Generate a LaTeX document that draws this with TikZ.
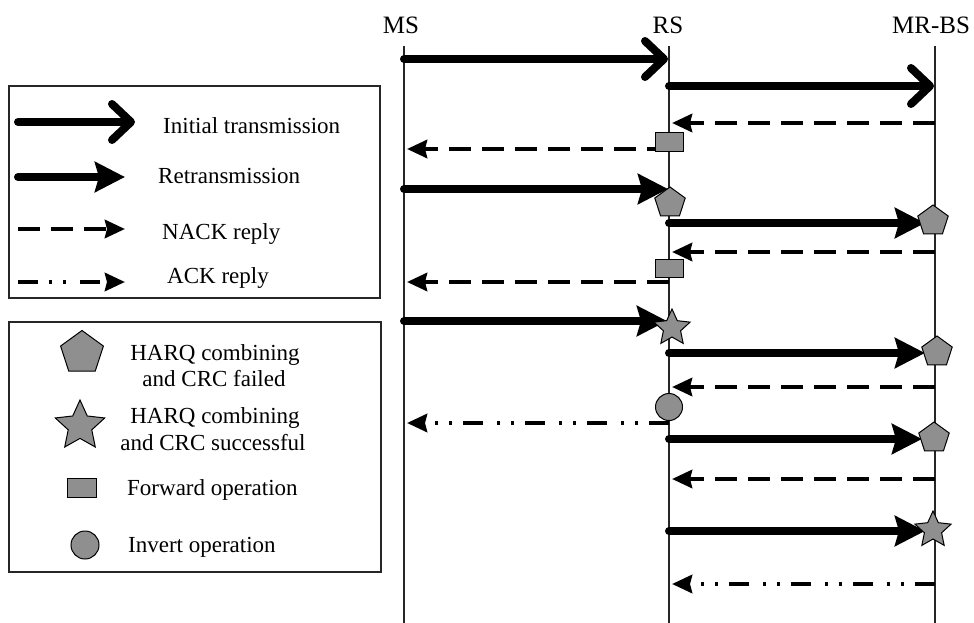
\documentclass[tikz,border=0pt]{standalone}
\usepackage{fontspec}
\setmainfont{Liberation Serif}
\usetikzlibrary{arrows.meta,shapes.geometric}
\definecolor{symfill}{RGB}{143,143,143}
\tikzset{
 life/.style={line width=1.5pt, black!85},
 initarrow/.style={line width=8pt, line cap=round, -{Straight Barb[length=19pt,width=36pt,line width=8pt,round]}},
 retxarrow/.style={line width=8pt, line cap=round, -{Stealth[length=30pt,width=30pt,inset=4pt]}},
 nackarrow/.style={line width=4.5pt, dash pattern=on 22pt off 11pt, -{Stealth[length=20pt,width=18pt,inset=2pt]}},
 ackarrow/.style={line width=4.5pt, dash pattern=on 20pt off 11pt on 3pt off 11pt on 3pt off 14pt, -{Stealth[length=20pt,width=18pt,inset=2pt]}},
 pent/.style={regular polygon, regular polygon sides=5, draw=black, line width=1pt, fill=symfill, minimum size=32pt, inner sep=0pt},
 starsym/.style={star, star points=5, star point ratio=2.1, draw=black, line width=1pt, fill=symfill, minimum size=38pt, inner sep=0pt},
 rectsym/.style={rectangle, draw=black, line width=1pt, fill=symfill, minimum width=28pt, minimum height=18pt, inner sep=0pt},
 circsym/.style={circle, draw=black, line width=1pt, fill=symfill, minimum size=27pt, inner sep=0pt},
 lbl/.style={font=\fontsize{23}{25}\selectfont, inner sep=0pt},
 headlbl/.style={font=\fontsize{25}{27}\selectfont, inner sep=0pt},
 legbox/.style={draw=black!85, line width=2pt, inner sep=0pt},
}
\begin{document}
\begin{tikzpicture}[x=1pt,y=-1pt]
\fill[white] (0,0) rectangle (974,623);
\useasboundingbox (0,0) rectangle (974,623);

% headers
\node[headlbl] (ms) at (401,25) {MS};
\node[headlbl] (rs) at (668,25) {RS};
\node[headlbl] (bs) at (931,25) {MR-BS};

% lifelines
\coordinate (mstop) at (404,46);
\coordinate (msbot) at (404,623);
\coordinate (rstop) at (669,46);
\coordinate (rsbot) at (669,623);
\coordinate (bstop) at (935,46);
\coordinate (bsbot) at (935,623);
\draw[life] (mstop) -- (msbot);
\draw[life] (rstop) -- (rsbot);
\draw[life] (bstop) -- (bsbot);

% legend boxes
\node[legbox, minimum width=371pt, minimum height=212pt, anchor=north west] (leg1) at (8,85) {};
\node[legbox, minimum width=372pt, minimum height=250pt, anchor=north west] (leg2) at (8,321) {};

% legend 1
\coordinate (l1a) at (18,122); \coordinate (l1b) at (135,122);
\draw[initarrow] (l1a) -- (l1b);
\node[lbl, anchor=base west] (t1) at (163,133) {Initial transmission};
\coordinate (l2a) at (18,177); \coordinate (l2b) at (125,177);
\draw[retxarrow] (l2a) -- (l2b);
\node[lbl, anchor=base west] (t2) at (158,183) {Retransmission};
\coordinate (l3a) at (18,229); \coordinate (l3b) at (125,229);
\draw[nackarrow] (l3a) -- (l3b);
\node[lbl, anchor=base west] (t3) at (162,239) {NACK reply};
\coordinate (l4a) at (18,282); \coordinate (l4b) at (125,282);
\draw[ackarrow] (l4a) -- (l4b);
\node[lbl, anchor=base west] (t4) at (167,283) {ACK reply};

% legend 2
\node[pent, minimum size=45pt] (lp) at (82,353) {};
\node[lbl, anchor=base] (t5a) at (215,360) {HARQ combining};
\node[lbl, anchor=base] (t5b) at (214,386) {and CRC failed};
\node[starsym, minimum size=52pt] (ls) at (80,426) {};
\node[lbl, anchor=base] (t6a) at (215,423) {HARQ combining};
\node[lbl, anchor=base] (t6b) at (213,450) {and CRC successful};
\node[rectsym, minimum width=29pt, minimum height=19pt] (lr) at (82,488) {};
\node[lbl, anchor=base west] (t7) at (127,495) {Forward operation};
\node[circsym, minimum size=28pt] (lc) at (85,545) {};
\node[lbl, anchor=base west] (t8) at (128,552) {Invert operation};

% message coordinates
\coordinate (a1s) at (404,59);  \coordinate (a1e) at (668,59);
\coordinate (a2s) at (669,86);  \coordinate (a2e) at (934,86);
\coordinate (a3s) at (935,123); \coordinate (a3e) at (672,123);
\coordinate (a4s) at (669,149); \coordinate (a4e) at (407,149);
\coordinate (a5s) at (404,189); \coordinate (a5e) at (668,189);
\coordinate (a6s) at (669,223); \coordinate (a6e) at (925,223);
\coordinate (a7s) at (935,252); \coordinate (a7e) at (672,252);
\coordinate (a8s) at (669,282); \coordinate (a8e) at (407,282);
\coordinate (a9s) at (404,321); \coordinate (a9e) at (667,321);
\coordinate (a10s) at (669,353); \coordinate (a10e) at (925,353);
\coordinate (a11s) at (935,387); \coordinate (a11e) at (672,387);
\coordinate (a12s) at (669,423); \coordinate (a12e) at (407,423);
\coordinate (a13s) at (669,439); \coordinate (a13e) at (922,439);
\coordinate (a14s) at (935,479); \coordinate (a14e) at (672,479);
\coordinate (a15s) at (669,531); \coordinate (a15e) at (925,531);
\coordinate (a16s) at (935,584); \coordinate (a16e) at (672,584);

\draw[initarrow] (a1s) -- (a1e);
\draw[initarrow] (a2s) -- (a2e);
\draw[nackarrow] (a3s) -- (a3e);
\draw[nackarrow] (a4s) -- (a4e);
\draw[retxarrow] (a5s) -- (a5e);
\draw[retxarrow] (a6s) -- (a6e);
\draw[nackarrow] (a7s) -- (a7e);
\draw[nackarrow] (a8s) -- (a8e);
\draw[retxarrow] (a9s) -- (a9e);
\draw[retxarrow] (a10s) -- (a10e);
\draw[nackarrow] (a11s) -- (a11e);
\draw[ackarrow] (a12s) -- (a12e);
\draw[retxarrow] (a13s) -- (a13e);
\draw[nackarrow] (a14s) -- (a14e);
\draw[retxarrow] (a15s) -- (a15e);
\draw[ackarrow] (a16s) -- (a16e);

% symbols
\node[rectsym] (r1) at (669,142) {};
\node[pent] (p1) at (670,203) {};
\node[pent] (p2) at (933,221) {};
\node[rectsym] (r2) at (669,268) {};
\node[starsym] (s1) at (672,328) {};
\node[pent] (p3) at (937,352) {};
\node[circsym] (c1) at (669,407) {};
\node[pent] (p4) at (934,438) {};
\node[starsym] (s2) at (933,530) {};
\end{tikzpicture}
\end{document}
